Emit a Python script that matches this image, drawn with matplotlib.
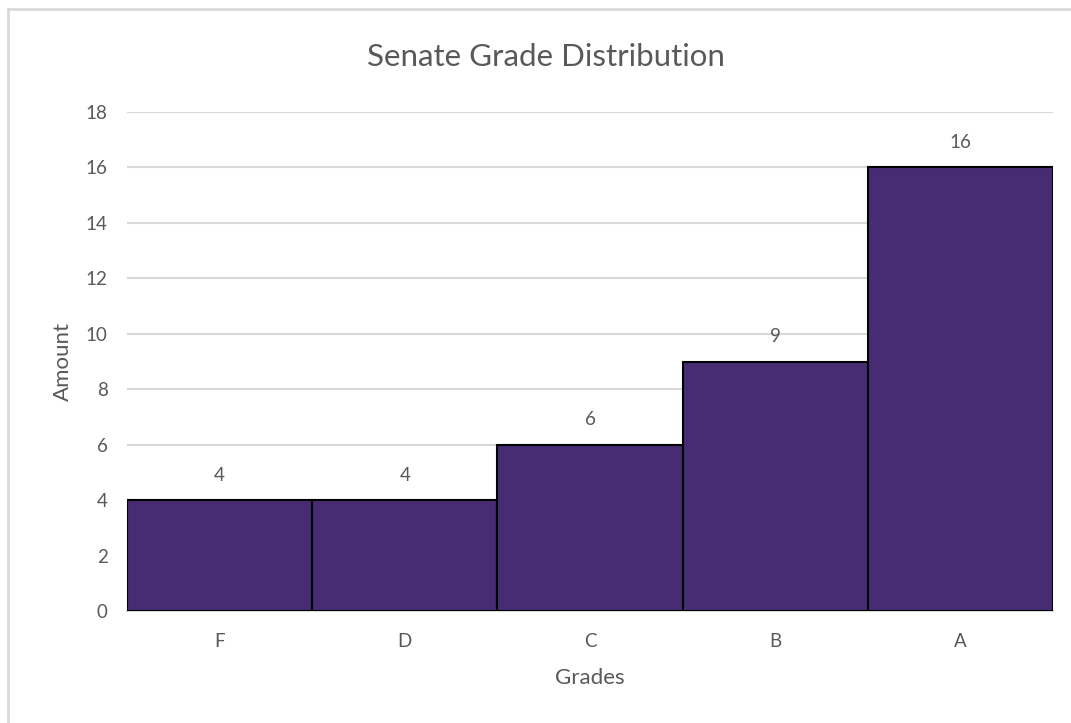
import matplotlib
matplotlib.use('Agg')
from matplotlib import pyplot as plt
from matplotlib.lines import Line2D

# data
grades = ['F', 'D', 'C', 'B', 'A']
amounts = [4, 4, 6, 9, 16]
y_ticks = [0, 2, 4, 6, 8, 10, 12, 14, 16, 18]

bar_color = '#472C73'
text_gray = '#595959'
grid_gray = '#D9D9D9'

plt.rcParams['font.family'] = ['Lato', 'DejaVu Sans']

fig = plt.figure(figsize=(10.71, 7.23), dpi=100)
ax = fig.add_axes([127 / 1071, 1 - 611 / 723, (1053 - 127) / 1071, (611 - 112) / 723])

x = list(range(len(grades)))
bars = ax.bar(x, amounts, width=1.0, color=bar_color, edgecolor='black', linewidth=1.5, zorder=3)

for xi, val in zip(x, amounts):
    ax.annotate(str(val), (xi, val), xytext=(0, 18), textcoords='offset points',
                ha='center', va='center', fontsize=13.5, color=text_gray)

ax.set_xlim(-0.5, len(grades) - 0.5)
ax.set_ylim(0, 18)
ax.set_yticks(y_ticks)
ax.set_xticks(x)
ax.set_xticklabels(grades)
ax.yaxis.grid(True, color=grid_gray, linewidth=1.5, zorder=0)
ax.set_axisbelow(True)

for side in ['top', 'right', 'left']:
    ax.spines[side].set_visible(False)
ax.spines['bottom'].set_color(grid_gray)
ax.spines['bottom'].set_linewidth(1.5)

ax.tick_params(axis='both', length=0, colors=text_gray, labelsize=13.5)
ax.tick_params(axis='x', pad=16)
ax.tick_params(axis='y', pad=14)

ax.set_xlabel('Grades', fontsize=16, color=text_gray, labelpad=13)
ax.set_ylabel('Amount', fontsize=16, color=text_gray, labelpad=9)

fig.text(546 / 1071, 1 - 57 / 723, 'Senate Grade Distribution', ha='center', va='center',
         fontsize=22.5, color=text_gray)

# chart border (only left and top visible in the reference)
fig.add_artist(Line2D([8 / 1071, 8 / 1071], [0, 1 - 9 / 723], transform=fig.transFigure,
                      color=grid_gray, linewidth=2))
fig.add_artist(Line2D([8 / 1071, 1], [1 - 9 / 723, 1 - 9 / 723], transform=fig.transFigure,
                      color=grid_gray, linewidth=2))

fig.savefig('out.png', dpi=100)
